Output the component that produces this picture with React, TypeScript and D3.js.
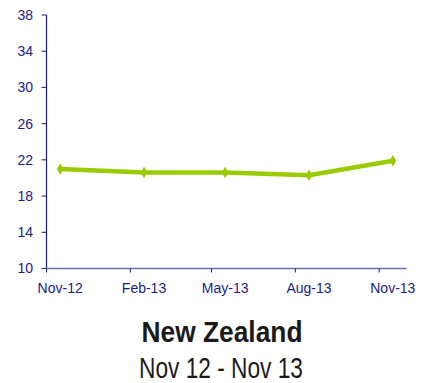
import React from "react";
import * as d3 from "d3";

// Quarterly readings, Nov 2012 – Nov 2013
const periods: Date[] = [
  new Date(2012, 10, 16),
  new Date(2013, 1, 16),
  new Date(2013, 4, 16),
  new Date(2013, 7, 16),
  new Date(2013, 10, 16),
];
const periodLabels: string[] = ["Nov-12", "Feb-13", "May-13", "Aug-13", "Nov-13"];
const tickDates: Date[] = [
  new Date(2012, 10, 1),
  new Date(2013, 1, 1),
  new Date(2013, 4, 1),
  new Date(2013, 7, 1),
  new Date(2013, 10, 1),
];
const values: number[] = [21.0, 20.6, 20.6, 20.3, 21.9];
const yTicks: number[] = [10, 14, 18, 22, 26, 30, 34, 38];

const W = 437;
const H = 383;
const left = 46.5;
const right = 406.5;
const top = 15;
const bottom = 268.5;

const navy = "#1c1c7e";
const green = "#99cc00";

export default function App() {
  const x = d3
    .scaleTime()
    .domain([new Date(2012, 10, 1), new Date(2013, 11, 1)])
    .range([left, right]);
  const y = d3.scaleLinear().domain([10, 38]).range([bottom, top]);

  const line = d3
    .line<number>()
    .x((_, i) => x(periods[i]))
    .y((d) => y(d));

  const diamond = d3.symbol().type(d3.symbolDiamond).size(38)();

  return (
    <svg
      width={W}
      height={H}
      style={{ position: "absolute", left: 0, top: 0, background: "#fff" }}
      fontFamily="'Liberation Sans', Arial, sans-serif"
    >
      {/* y axis */}
      <line x1={left} x2={left} y1={top} y2={bottom} stroke={navy} strokeWidth={1.2} />
      {yTicks.map((t) => (
        <g key={t}>
          <line x1={left - 5} x2={left} y1={y(t)} y2={y(t)} stroke={navy} strokeWidth={1} />
          <text
            x={33}
            y={y(t)}
            dy="0.35em"
            textAnchor="end"
            fontSize={14}
            fill={navy}
          >
            {t}
          </text>
        </g>
      ))}

      {/* x axis */}
      <line x1={left} x2={right} y1={bottom} y2={bottom} stroke="#6b6bb3" strokeWidth={1.5} />
      {tickDates.map((d, i) => (
        <line
          key={i}
          x1={x(d)}
          x2={x(d)}
          y1={bottom}
          y2={bottom + 4}
          stroke={navy}
          strokeWidth={1}
        />
      ))}
      {periods.map((d, i) => (
        <text
          key={i}
          x={x(d)}
          y={293}
          textAnchor="middle"
          fontSize={14}
          fill={navy}
        >
          {periodLabels[i]}
        </text>
      ))}

      {/* series */}
      <path
        d={line(values) ?? ""}
        fill="none"
        stroke={green}
        strokeWidth={4.5}
        strokeLinejoin="round"
      />
      {values.map((v, i) => (
        <path
          key={i}
          d={diamond ?? ""}
          transform={`translate(${x(periods[i])},${y(v)})`}
          fill={green}
        />
      ))}

      {/* title */}
      <text
        x={222}
        y={341.5}
        textAnchor="middle"
        fontSize={30}
        fontWeight="bold"
        fill="#1a1a1a"
        textLength={161}
        lengthAdjust="spacingAndGlyphs"
      >
        New Zealand
      </text>
      <text
        x={221}
        y={377.5}
        textAnchor="middle"
        fontSize={30}
        fill="#1a1a1a"
        textLength={164}
        lengthAdjust="spacingAndGlyphs"
      >
        Nov 12 - Nov 13
      </text>
    </svg>
  );
}
